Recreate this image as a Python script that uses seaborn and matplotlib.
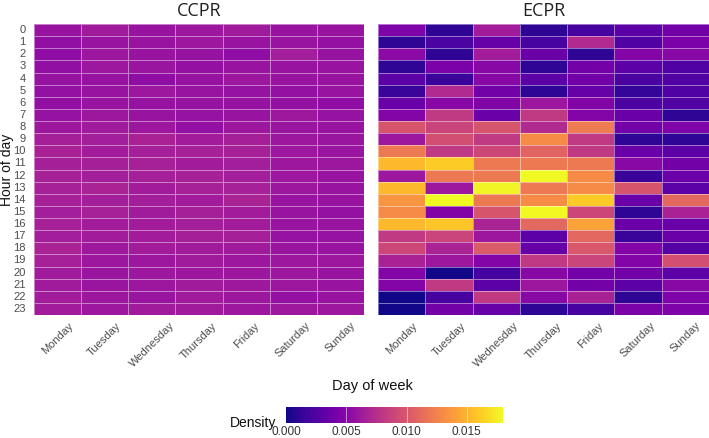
import numpy as np
import pandas as pd
import matplotlib
matplotlib.use("Agg")
import matplotlib.pyplot as plt
import seaborn as sns

days = ["Monday", "Tuesday", "Wednesday", "Thursday", "Friday", "Saturday", "Sunday"]
hours = [str(h) for h in range(24)]

ccpr = [
    [0.0058, 0.0062, 0.0058, 0.0060, 0.0062, 0.0058, 0.0058],
    [0.0055, 0.0058, 0.0058, 0.0060, 0.0058, 0.0058, 0.0056],
    [0.0054, 0.0060, 0.0058, 0.0057, 0.0054, 0.0064, 0.0057],
    [0.0055, 0.0060, 0.0059, 0.0056, 0.0058, 0.0058, 0.0058],
    [0.0057, 0.0057, 0.0054, 0.0057, 0.0060, 0.0058, 0.0058],
    [0.0056, 0.0058, 0.0060, 0.0058, 0.0057, 0.0056, 0.0058],
    [0.0055, 0.0058, 0.0057, 0.0057, 0.0057, 0.0056, 0.0054],
    [0.0057, 0.0060, 0.0058, 0.0057, 0.0058, 0.0061, 0.0057],
    [0.0060, 0.0062, 0.0060, 0.0055, 0.0060, 0.0059, 0.0058],
    [0.0065, 0.0064, 0.0067, 0.0063, 0.0065, 0.0060, 0.0059],
    [0.0067, 0.0063, 0.0065, 0.0066, 0.0066, 0.0060, 0.0059],
    [0.0065, 0.0065, 0.0066, 0.0063, 0.0064, 0.0060, 0.0060],
    [0.0066, 0.0064, 0.0065, 0.0066, 0.0064, 0.0060, 0.0058],
    [0.0066, 0.0068, 0.0063, 0.0066, 0.0066, 0.0060, 0.0058],
    [0.0066, 0.0064, 0.0064, 0.0063, 0.0068, 0.0058, 0.0058],
    [0.0064, 0.0066, 0.0062, 0.0065, 0.0063, 0.0058, 0.0056],
    [0.0066, 0.0063, 0.0063, 0.0064, 0.0063, 0.0058, 0.0058],
    [0.0064, 0.0063, 0.0063, 0.0065, 0.0065, 0.0057, 0.0057],
    [0.0068, 0.0061, 0.0063, 0.0062, 0.0062, 0.0059, 0.0058],
    [0.0066, 0.0060, 0.0060, 0.0062, 0.0060, 0.0060, 0.0060],
    [0.0062, 0.0059, 0.0060, 0.0060, 0.0060, 0.0060, 0.0058],
    [0.0062, 0.0059, 0.0060, 0.0062, 0.0061, 0.0060, 0.0058],
    [0.0063, 0.0060, 0.0059, 0.0062, 0.0060, 0.0056, 0.0058],
    [0.0063, 0.0060, 0.0062, 0.0062, 0.0060, 0.0061, 0.0060],
]

ecpr = [
    [0.0045, 0.0010, 0.0063, 0.0010, 0.0020, 0.0030, 0.0040],
    [0.0010, 0.0022, 0.0034, 0.0020, 0.0072, 0.0025, 0.0043],
    [0.0052, 0.0010, 0.0063, 0.0036, 0.0010, 0.0048, 0.0050],
    [0.0010, 0.0043, 0.0050, 0.0010, 0.0040, 0.0030, 0.0025],
    [0.0030, 0.0015, 0.0050, 0.0030, 0.0040, 0.0022, 0.0025],
    [0.0015, 0.0072, 0.0040, 0.0010, 0.0034, 0.0013, 0.0025],
    [0.0036, 0.0050, 0.0047, 0.0060, 0.0047, 0.0022, 0.0025],
    [0.0048, 0.0082, 0.0036, 0.0082, 0.0048, 0.0036, 0.0010],
    [0.0099, 0.0088, 0.0099, 0.0072, 0.0121, 0.0040, 0.0045],
    [0.0060, 0.0095, 0.0082, 0.0130, 0.0082, 0.0010, 0.0010],
    [0.0120, 0.0081, 0.0090, 0.0108, 0.0082, 0.0036, 0.0030],
    [0.0152, 0.0161, 0.0120, 0.0120, 0.0120, 0.0050, 0.0040],
    [0.0060, 0.0120, 0.0120, 0.0180, 0.0130, 0.0015, 0.0036],
    [0.0152, 0.0060, 0.0178, 0.0120, 0.0130, 0.0099, 0.0030],
    [0.0135, 0.0180, 0.0120, 0.0130, 0.0160, 0.0036, 0.0110],
    [0.0130, 0.0047, 0.0099, 0.0180, 0.0090, 0.0010, 0.0067],
    [0.0152, 0.0158, 0.0068, 0.0110, 0.0142, 0.0036, 0.0036],
    [0.0082, 0.0089, 0.0060, 0.0030, 0.0110, 0.0015, 0.0036],
    [0.0090, 0.0068, 0.0102, 0.0034, 0.0100, 0.0048, 0.0027],
    [0.0067, 0.0060, 0.0048, 0.0081, 0.0089, 0.0048, 0.0095],
    [0.0048, 0.0002, 0.0020, 0.0050, 0.0040, 0.0040, 0.0030],
    [0.0048, 0.0082, 0.0030, 0.0060, 0.0040, 0.0030, 0.0050],
    [0.0001, 0.0020, 0.0082, 0.0050, 0.0067, 0.0010, 0.0045],
    [0.0002, 0.0040, 0.0034, 0.0010, 0.0020, 0.0043, 0.0045],
]

cbar_ticks = [0.000, 0.005, 0.010, 0.015]
vmin, vmax = 0.0, 0.018

sns.set_theme(style="white")
plt.rcParams["font.family"] = ["Liberation Sans", "DejaVu Sans"]

W, H = 709, 438
fig = plt.figure(figsize=(W / 100, H / 100), dpi=100)

def rect(x0, y0, x1, y1):
    return [x0 / W, 1 - y1 / H, (x1 - x0) / W, (y1 - y0) / H]

ax1 = fig.add_axes(rect(34, 24, 364, 315))
ax2 = fig.add_axes(rect(378, 24, 709, 315))
cax = fig.add_axes(rect(286, 407, 503, 423))

df1 = pd.DataFrame(ccpr, index=hours, columns=days)
df2 = pd.DataFrame(ecpr, index=hours, columns=days)

grid = dict(linewidths=0.5, linecolor=(1, 1, 1, 0.45))
sns.heatmap(df1, ax=ax1, cmap="plasma", vmin=vmin, vmax=vmax, cbar=False,
            xticklabels=days, yticklabels=hours, **grid)
sns.heatmap(df2, ax=ax2, cmap="plasma", vmin=vmin, vmax=vmax, cbar=False,
            xticklabels=days, yticklabels=False, **grid)

tick_col = "#4d4d4d"
title_fonts = ["Liberation Sans Narrow", "Open Sans", "DejaVu Sans"]
for ax, title in [(ax1, "CCPR"), (ax2, "ECPR")]:
    ax.set_title(title, fontsize=13, color="#222222", pad=6, family=title_fonts)
    ax.set_xlabel("")
    ax.set_ylabel("")
    ax.tick_params(axis="both", length=0, colors=tick_col)
    ax.set_xticklabels(days, rotation=45, ha="center", va="top",
                       color=tick_col, fontsize=8)
    ax.tick_params(axis="x", pad=4)

ax1.set_yticklabels(hours, rotation=0, color=tick_col, fontsize=8)
ax1.tick_params(axis="y", pad=6)
ax1.set_ylabel("Hour of day", fontsize=10, color="#111111")
ax1.yaxis.set_label_coords((14 - 34) / 330, 0.5)

fig.text(372 / W, 1 - 386 / H, "Day of week", ha="center", va="center",
         fontsize=10.5, color="#111111")

cb = fig.colorbar(ax2.collections[0], cax=cax, orientation="horizontal",
                  ticks=cbar_ticks)
cb.outline.set_visible(False)
cb.ax.tick_params(length=0, labelsize=8.5, colors="#333333", pad=2)
cb.ax.set_xticklabels([f"{t:.3f}" for t in cbar_ticks])
for t in cbar_ticks[1:]:
    cb.ax.axvline(t, color="white", lw=0.6, alpha=0.6)
fig.text(276 / W, 1 - 423 / H, "Density", ha="right", va="center",
         fontsize=10, color="#111111")

fig.savefig("out.png", dpi=100)
